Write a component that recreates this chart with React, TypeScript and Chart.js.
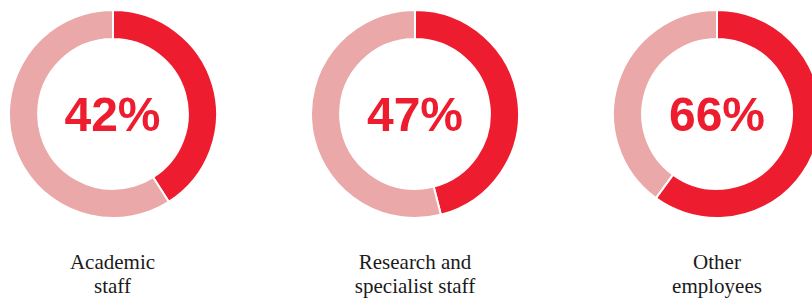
import React, { useEffect, useRef } from "react";
import { Chart, registerables } from "chart.js";

Chart.register(...registerables);

// Data
const categories = ["Academic\nstaff", "Research and\nspecialist staff", "Other\nemployees"];
const centerLabels = ["42%", "47%", "66%"];
// arc share as drawn in the picture (red part, starting at 12 o'clock)
const arcShares = [41, 46, 60];

const RED = "#ED1C2E";
const PINK = "#EBA8A8";

const centersX = [112.5, 415, 717];
const centerY = 113.5;
const SIZE = 210;

function Donut({ share, cx }: { share: number; cx: number }) {
  const ref = useRef<HTMLCanvasElement | null>(null);
  useEffect(() => {
    if (!ref.current) return;
    const chart = new Chart(ref.current, {
      type: "doughnut",
      data: {
        labels: ["share", "rest"],
        datasets: [
          {
            data: [share, 100 - share],
            backgroundColor: [RED, PINK],
            borderColor: "#ffffff",
            borderWidth: 2,
            hoverOffset: 0,
          },
        ],
      },
      options: {
        responsive: false,
        animation: false,
        cutout: "72%",
        plugins: { legend: { display: false }, tooltip: { enabled: false } },
        events: [],
      },
    });
    return () => chart.destroy();
  }, [share]);
  return (
    <canvas
      ref={ref}
      width={SIZE}
      height={SIZE}
      style={{
        position: "absolute",
        left: cx - SIZE / 2,
        top: centerY - SIZE / 2,
        width: SIZE,
        height: SIZE,
      }}
    />
  );
}

export default function App() {
  return (
    <div
      style={{
        position: "absolute",
        left: 0,
        top: 0,
        width: 812,
        height: 299,
        overflow: "hidden",
        background: "#ffffff",
      }}
    >
      {arcShares.map((s, i) => (
        <Donut key={i} share={s} cx={centersX[i]} />
      ))}
      {centerLabels.map((t, i) => (
        <div
          key={"c" + i}
          style={{
            position: "absolute",
            left: centersX[i] - 80,
            width: 160,
            top: 91,
            lineHeight: "48px",
            textAlign: "center",
            fontFamily: "'Liberation Sans', Arial, sans-serif",
            fontWeight: 700,
            fontSize: 48,
            color: RED,
          }}
        >
          {t}
        </div>
      ))}
      {categories.map((t, i) => (
        <div
          key={"l" + i}
          style={{
            position: "absolute",
            left: centersX[i] - 100,
            width: 200,
            top: 250,
            lineHeight: "24px",
            textAlign: "center",
            fontFamily: "'Liberation Serif', 'Times New Roman', serif",
            fontSize: 21,
            color: "#1a1a1a",
            whiteSpace: "pre-line",
          }}
        >
          {t}
        </div>
      ))}
    </div>
  );
}
